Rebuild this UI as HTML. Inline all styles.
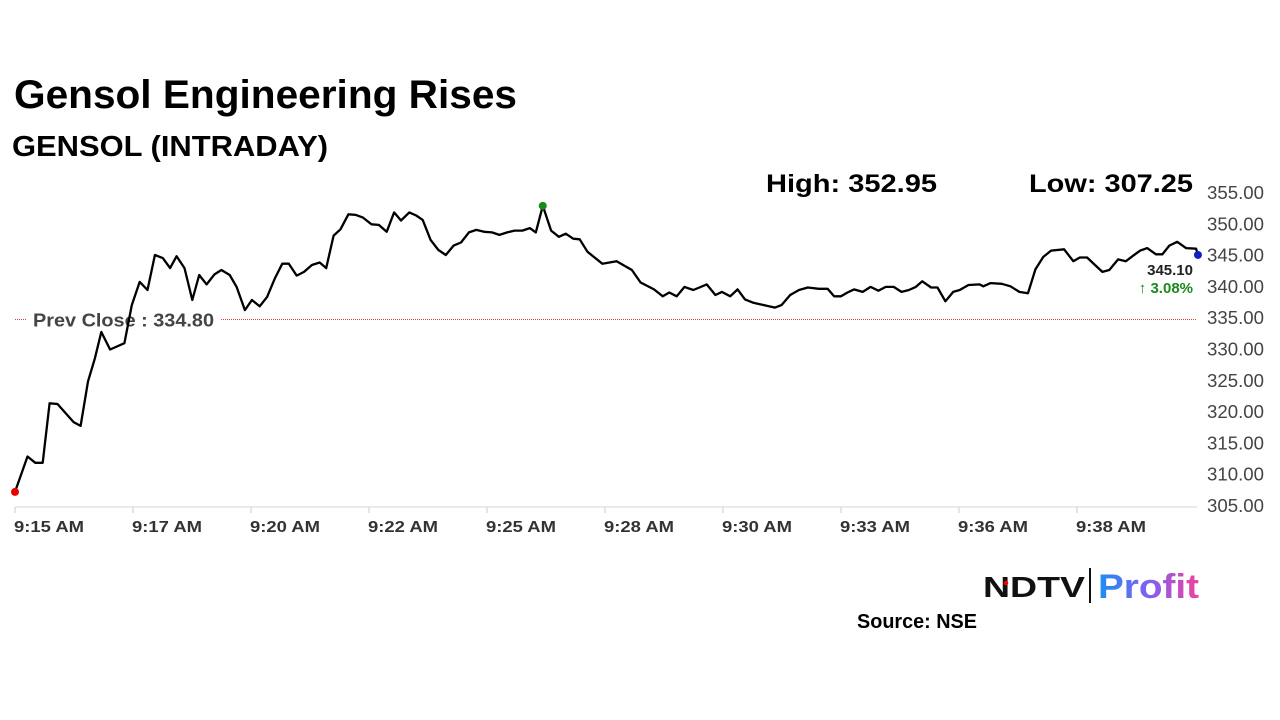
<!DOCTYPE html>
<html><head><meta charset="utf-8"><style>
html,body{margin:0;padding:0;background:#fff;}
svg{display:block;font-family:"Liberation Sans",sans-serif;}
</style></head><body>
<svg id="chart" width="1280" height="720" viewBox="0 0 1280 720">
<text x="14" y="108" font-size="40" font-weight="bold" textLength="503" lengthAdjust="spacingAndGlyphs">Gensol Engineering Rises</text>
<text x="12" y="156" font-size="29" font-weight="bold" textLength="316" lengthAdjust="spacingAndGlyphs">GENSOL (INTRADAY)</text>
<text x="766" y="192" font-size="25" font-weight="bold" textLength="171" lengthAdjust="spacingAndGlyphs">High: 352.95</text>
<text x="1029" y="192" font-size="25" font-weight="bold" textLength="164" lengthAdjust="spacingAndGlyphs">Low: 307.25</text>
<g id="yaxis"></g>
<g id="xaxis"></g>
<g id="prev"></g>
<g id="series"></g>
<g>
<text x="983" y="597" font-size="29" font-weight="900" textLength="102" lengthAdjust="spacingAndGlyphs" fill="#111">NDTV</text>
<circle cx="1006" cy="583" r="2.3" fill="#e00"/>
<rect x="1089" y="568" width="2" height="35" fill="#111"/>
<defs><linearGradient id="pg" x1="0" x2="1"><stop offset="0" stop-color="#1d8ff0"/><stop offset="0.55" stop-color="#8a5cf0"/><stop offset="1" stop-color="#f0439a"/></linearGradient></defs>
<text x="1098" y="598" font-size="34" font-weight="bold" fill="url(#pg)" textLength="101" lengthAdjust="spacingAndGlyphs">Profit</text>
</g>
<text x="857" y="628" font-size="20" font-weight="bold" textLength="120" lengthAdjust="spacingAndGlyphs">Source: NSE</text>
</svg>
<script>
const times=[0.00,0.27,0.44,0.60,0.75,0.92,1.27,1.42,1.58,1.73,1.87,2.06,2.37,2.53,2.70,2.87,3.03,3.20,3.36,3.50,3.67,3.84,3.99,4.15,4.32,4.47,4.65,4.80,4.98,5.13,5.30,5.46,5.63,5.79,5.93,6.10,6.26,6.43,6.60,6.74,6.90,7.05,7.22,7.38,7.53,7.72,7.88,8.05,8.21,8.36,8.54,8.69,8.83,9.00,9.17,9.33,9.50,9.66,9.83,9.99,10.16,10.33,10.49,10.66,10.82,10.99,11.15,11.28,11.43,11.61,11.78,11.93,12.09,12.23,12.40,12.72,13.03,13.36,13.55,13.84,14.03,14.17,14.33,14.50,14.69,14.98,15.17,15.31,15.49,15.65,15.81,15.98,16.46,16.60,16.79,16.98,17.17,17.41,17.60,17.74,17.89,18.03,18.17,18.36,18.53,18.70,18.86,19.03,19.20,19.36,19.51,19.65,19.84,19.98,20.15,20.32,20.46,20.65,20.89,20.97,21.13,21.37,21.56,21.75,21.94,22.10,22.27,22.44,22.72,22.92,23.06,23.22,23.39,23.55,23.70,23.89,24.06,24.22,24.37,24.52,24.71,24.85,25.00,25.17,25.36,25.58,25.62];
const prices=[307.25,312.9,311.9,311.9,321.4,321.3,318.4,317.8,324.9,328.6,332.8,330.0,331.0,337.1,340.8,339.5,345.1,344.6,343.0,344.9,343.0,337.9,341.9,340.4,342.0,342.7,341.9,340.0,336.3,337.9,336.9,338.4,341.4,343.7,343.7,341.8,342.4,343.5,343.9,343.0,348.2,349.2,351.6,351.5,351.1,350.0,349.9,348.8,351.9,350.6,351.9,351.4,350.7,347.5,345.9,345.1,346.6,347.1,348.7,349.1,348.8,348.7,348.3,348.7,349.0,349.0,349.4,348.7,352.95,349.0,348.0,348.5,347.7,347.6,345.6,343.7,344.1,342.7,340.7,339.6,338.5,339.1,338.5,340.0,339.5,340.4,338.7,339.2,338.5,339.6,338.0,337.5,336.7,337.1,338.7,339.5,339.9,339.7,339.7,338.5,338.5,339.1,339.6,339.2,340.0,339.4,340.0,340.0,339.2,339.5,340.0,340.9,339.9,339.9,337.7,339.2,339.5,340.3,340.4,340.1,340.6,340.5,340.1,339.2,339.0,342.8,344.8,345.8,346.0,344.1,344.7,344.7,343.5,342.4,342.7,344.4,344.1,345.0,345.8,346.2,345.2,345.2,346.6,347.2,346.2,346.1,345.10];
const yTicks=[355,350,345,340,335,330,325,320,315,310,305];
const xTickTimes=[0,2.556,5.111,7.667,10.222,12.778,15.333,17.889,20.444,23.0];
const xTickLabels=["9:15 AM","9:17 AM","9:20 AM","9:22 AM","9:25 AM","9:28 AM","9:30 AM","9:33 AM","9:36 AM","9:38 AM"];
const prevClose=[334.80];
const changePct=[3.08];

const NS="http://www.w3.org/2000/svg";
const X=t=>15+t*(118/2.5556);
const Y=v=>193+(355-v)*(313/50);
function mk(tag,attrs,parent,txt){const e=document.createElementNS(NS,tag);for(const k in attrs)e.setAttribute(k,attrs[k]);if(txt!==undefined)e.textContent=txt;parent.appendChild(e);return e;}
const yax=document.getElementById('yaxis'),xax=document.getElementById('xaxis'),prev=document.getElementById('prev'),ser=document.getElementById('series');
yTicks.forEach(v=>{const t=mk('text',{x:1207,y:Y(v)+6,'font-size':18,fill:'#444',textLength:57,lengthAdjust:'spacingAndGlyphs'},yax,v.toFixed(2));

});
mk('line',{x1:15,x2:1197,y1:507,y2:507,stroke:'#e3e3e3','stroke-width':1.5},xax);
xTickTimes.forEach((tm,i)=>{const x=X(tm);
const tk=mk('line',{x1:x,x2:x,y1:507,y2:513,stroke:'#ccc'},xax);


const t=mk('text',{x:x-1,y:532,'font-size':16,'font-weight':'bold',fill:'#333',textLength:70,lengthAdjust:'spacingAndGlyphs'},xax,xTickLabels[i]);

});
const py=Y(prevClose[0]);
mk('line',{x1:15,x2:1197,y1:py,y2:py,stroke:'#e04040','stroke-width':1,'stroke-dasharray':'1,1'},prev);
mk('rect',{x:27,y:py-12,width:193,height:24,fill:'#fff'},prev);
const pl=mk('text',{x:33,y:py+7,'font-size':18,'font-weight':'bold',fill:'#444',textLength:181,lengthAdjust:'spacingAndGlyphs'},prev,'Prev Close : '+prevClose[0].toFixed(2));


const d=times.map((t,i)=>(i?'L':'M')+X(t).toFixed(1)+','+Y(prices[i]).toFixed(1)).join(' ');
const line=mk('path',{d:d,fill:'none',stroke:'#000','stroke-width':2.3,'stroke-linejoin':'round'},ser);


let hi=0,lo=0;prices.forEach((p,i)=>{if(p>prices[hi])hi=i;if(p<prices[lo])lo=i;});
const hd=mk('circle',{cx:X(times[hi]),cy:Y(prices[hi]),r:4,fill:'#1a8a1a'},ser);


const ld=mk('circle',{cx:X(times[lo]),cy:Y(prices[lo]),r:4,fill:'#e00'},ser);


const n=prices.length-1;
const ed=mk('circle',{cx:X(times[n]),cy:Y(prices[n]),r:4,fill:'#1020c0'},ser);


const lv=mk('text',{x:1193,y:Y(prices[n])+20,'font-size':15,'font-weight':'bold','text-anchor':'end',fill:'#222'},ser,prices[n].toFixed(2));


const cp=mk('text',{x:1193,y:Y(prices[n])+38,'font-size':15,'font-weight':'bold','text-anchor':'end',fill:'#1a8a1a'},ser,'\u2191 '+changePct[0].toFixed(2)+'%');


</script>
</body></html>
